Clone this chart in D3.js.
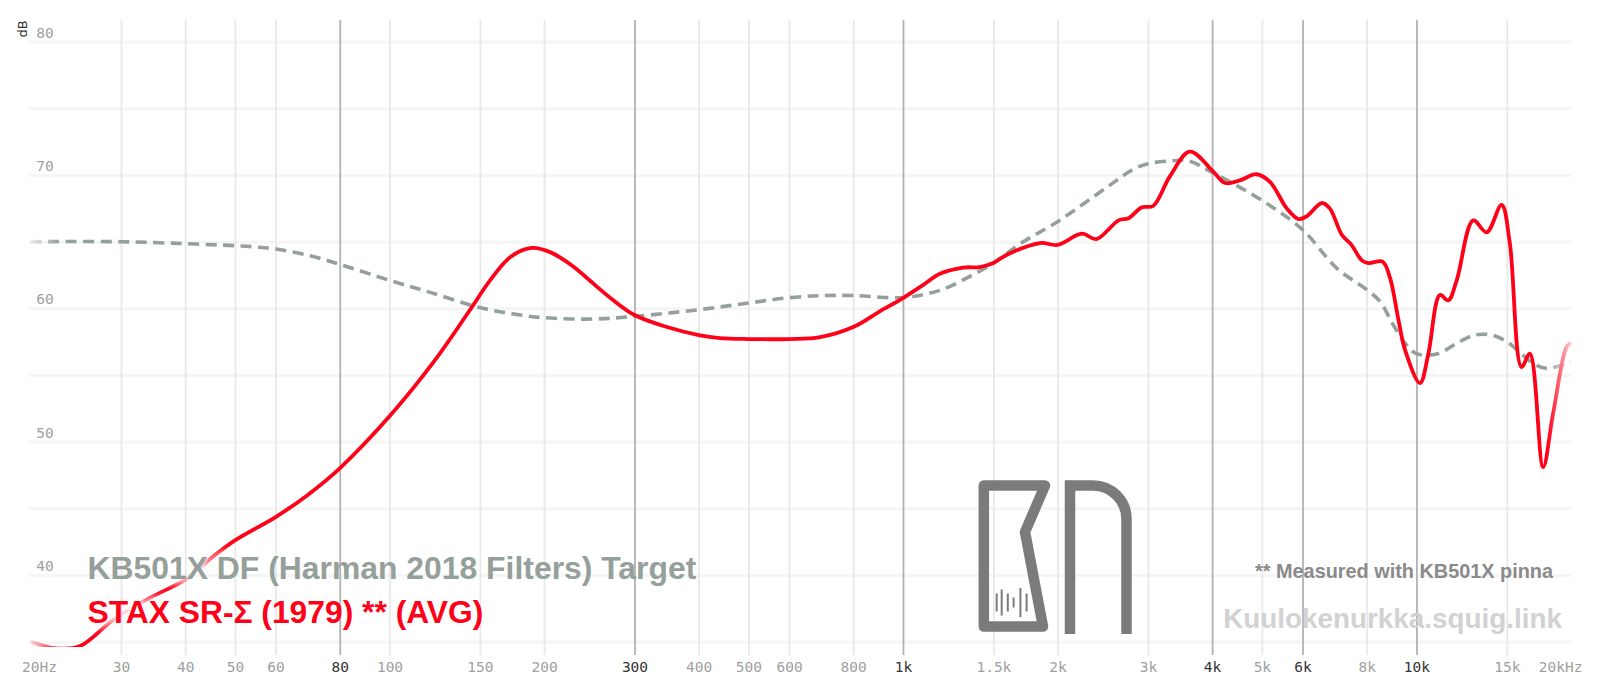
<!DOCTYPE html>
<html>
<head>
<meta charset="utf-8">
<script src="https://cdn.jsdelivr.net/npm/d3@7"></script>
<style>
  body { margin: 0; background: #fff; }
  svg { display: block; }
</style>
</head>
<body>
<svg id="chart" width="1600" height="692"></svg>
<script>
// ---- data ----
var tickFreq = [20, 30, 40, 50, 60, 80, 100, 150, 200, 300, 400, 500, 600, 800, 1000,
  1500, 2000, 3000, 4000, 5000, 6000, 8000, 10000, 15000, 20000];
var tickLabels = ["20Hz", "30", "40", "50", "60", "80", "100", "150", "200", "300", "400", "500",
  "600", "800", "1k", "1.5k", "2k", "3k", "4k", "5k", "6k", "8k", "10k", "15k", "20kHz"];
var darkTicks = [80, 300, 1000, 4000, 6000, 10000];
var dbGrid = [35, 40, 45, 50, 55, 60, 65, 70, 75, 80];
var dbLabels = [40, 50, 60, 70, 80];

// KB501X DF (Harman 2018 Filters) Target
var targetFreq = [20, 30, 40, 50, 55, 60, 70, 80, 100, 120, 150, 180, 200, 250, 300, 400, 500, 600, 700,
  800, 1000, 1100, 1200, 1350, 1500, 1700, 2000, 2500, 2800, 3000, 3300, 3600, 4000, 5000, 6000, 7000,
  8000, 8500, 9000, 9500, 10000, 11000, 12000, 13000, 14000, 15000, 16000, 17000, 18000, 20000];
var targetDb = [65.0, 65.0, 64.85, 64.7, 64.6, 64.45, 63.95, 63.3, 62.1, 61.2, 60.06, 59.5, 59.3, 59.2,
  59.4, 59.9, 60.4, 60.8, 60.96, 60.96, 60.8, 61.05, 61.45, 62.4, 63.4, 64.9, 66.5, 69.1, 70.4, 70.85,
  71.05, 71.05, 70.2, 68.1, 65.9, 63.0, 61.4, 60.5, 58.8, 57.4, 56.6, 56.6, 57.4, 58.0, 58.0, 57.5,
  56.6, 55.8, 55.5, 56.0];

// STAX SR-Σ (1979) ** (AVG)
var staxFreq = [20, 22.4, 24.9, 29, 34.2, 40, 45.4, 50, 60, 69, 80, 100, 122, 143, 157, 172, 189, 206,
  227, 242, 269, 300, 347, 400, 440, 500, 600, 690, 800, 900, 1000, 1095, 1180, 1310, 1410, 1500, 1590,
  1850, 2000, 2230, 2380, 2630, 2750, 2920, 3070, 3310, 3620, 4020, 4240, 4530, 4880, 5180, 5590,
  5890, 6110, 6540, 6780, 7160, 7460, 7830, 8060, 8590, 8880, 9220, 9500, 10160, 10550, 11110,
  11530, 11980, 12900, 13700, 14650, 15200, 16020, 16630, 17650, 18460, 19610, 20000];
var staxDb = [35.0, 34.5, 34.65, 36.65, 38.3, 39.65, 41.4, 42.6, 44.35, 45.95, 48.0, 51.9, 56.0, 59.8,
  62.1, 63.85, 64.53, 64.2, 63.2, 62.3, 60.8, 59.5, 58.6, 58.0, 57.77, 57.7, 57.7, 57.84, 58.6, 59.76,
  60.77, 61.76, 62.6, 63.06, 63.1, 63.4, 64.0, 64.9, 64.76, 65.6, 65.2, 66.6, 66.76, 67.58, 67.68, 69.9,
  71.76, 70.26, 69.4, 69.6, 70.06, 69.5, 67.5, 66.7, 66.9, 67.9, 67.5, 65.5, 64.8, 63.6, 63.4, 63.5,
  62.3, 59.2, 56.9, 54.4, 56.6, 61.0, 60.6, 62.1, 66.6, 65.7, 67.76, 64.9, 55.6, 56.6, 48.1, 52.1,
  57.1, 57.4];

var W = 1600, H = 692;
var svg = d3.select("#chart");
var defs = svg.append("defs");

var x = d3.scaleLog().domain([20, 20000]).range([30.6, 1571]);
var y = d3.scaleLinear().domain([35, 80]).range([641.7, 41.7]);

var mono = "'DejaVu Sans Mono', monospace";
var sans = "'Liberation Sans', Arial, sans-serif";

// horizontal grid + dB labels
var yAxis = svg.append("g")
  .attr("transform", "translate(29.3,0)")
  .call(d3.axisLeft(y).tickValues(dbGrid)
    .tickFormat(function(d) { return dbLabels.indexOf(d) >= 0 ? d : ""; })
    .tickSize(-(x.range()[1] - 29.3)).tickPadding(0));
yAxis.select(".domain").remove();
yAxis.selectAll(".tick line").attr("stroke", "#f5f5f5").attr("stroke-width", 3);
yAxis.selectAll(".tick text")
  .attr("x", 7).attr("dy", -4.5).attr("text-anchor", "start")
  .attr("fill", "#a0a0a0")
  .style("font-family", mono).style("font-size", "14.5px");

// vertical grid + frequency labels
var xAxis = svg.append("g")
  .attr("transform", "translate(0,655)")
  .call(d3.axisBottom(x).tickValues(tickFreq)
    .tickFormat(function(d, i) { return tickLabels[i]; })
    .tickSize(-635).tickPadding(7));
xAxis.select(".domain").remove();
xAxis.selectAll(".tick line")
  .attr("stroke", function(d) { return darkTicks.indexOf(d) >= 0 ? "#b2b2b2" : "#e8e8e8"; })
  .attr("stroke-width", 1.8)
  .attr("display", function(d) { return (d === 20 || d === 20000) ? "none" : null; });
xAxis.selectAll(".tick text")
  .attr("fill", function(d) { return darkTicks.indexOf(d) >= 0 ? "#333" : "#a0a0a0"; })
  .style("font-family", mono).style("font-size", "14.5px");
xAxis.selectAll(".tick text").filter(function(d) { return d === 20; })
  .attr("text-anchor", "start").attr("x", -9);
xAxis.selectAll(".tick text").filter(function(d) { return d === 20000; })
  .attr("text-anchor", "end").attr("x", 11);

// dB unit
svg.append("text")
  .attr("transform", "translate(26.5,29) rotate(-90)")
  .attr("text-anchor", "middle")
  .style("font-family", "'DejaVu Sans', sans-serif").style("font-size", "13px")
  .attr("fill", "#333").text("dB");

// logo
var logo = svg.append("g").attr("fill", "none").attr("stroke", "#7b7b7b")
  .attr("stroke-width", 10.5).attr("stroke-linejoin", "round");
logo.append("path").attr("d", "M983.8,485.5 H1045 L1025,532 L1043,626.5 H983.8 Z");
logo.append("path").attr("d", "M1070,634 V485.5 H1093 A33.5,33.5 0 0 1 1126.5,519 V634")
  .attr("stroke-linejoin", "miter");
var bars = [[996.7, 9], [1001.7, 13], [1007.8, 9], [1013.6, 5], [1020.4, 14.5], [1026.6, 9]];
logo.selectAll("line.bar").data(bars).enter().append("line")
  .attr("x1", function(d) { return d[0]; }).attr("x2", function(d) { return d[0]; })
  .attr("y1", function(d) { return 602.5 - d[1]; }).attr("y2", function(d) { return 602.5 + d[1]; })
  .attr("stroke-width", 2);

// texts
function fit(t, width) {
  var len = t.node().getComputedTextLength();
  var fs = parseFloat(t.style("font-size"));
  t.style("font-size", (fs * width / len) + "px");
  return t;
}

var legendSpec = [
  { text: "KB501X DF (Harman 2018 Filters) Target", y: 579, fill: "#96a09b", w: 609 },
  { text: "STAX SR-\u03A3 (1979) ** (AVG)", y: 622.7, fill: "#ff0019", w: 396 }
];

svg.append("text").attr("x", 1553).attr("y", 578).attr("text-anchor", "end")
  .style("font-family", sans).style("font-weight", "bold").style("font-size", "20px")
  .attr("fill", "#8a8a8a").text("** Measured with KB501X pinna")
  .call(fit, 298);

svg.append("text").attr("x", 1562).attr("y", 628).attr("text-anchor", "end")
  .style("font-family", sans).style("font-weight", "bold").style("font-size", "28px")
  .attr("fill", "#d2d2d2").text("Kuulokenurkka.squig.link")
  .call(fit, 339);

// curves (faded at the ends and around the legend)
var fade = defs.append("linearGradient").attr("id", "edgeFade")
  .attr("gradientUnits", "userSpaceOnUse")
  .attr("x1", x(20)).attr("x2", x(20000)).attr("y1", 0).attr("y2", 0);
[[0, 0.12], [0.018, 1], [0.985, 1], [1, 0.2]].forEach(function(s) {
  fade.append("stop").attr("offset", s[0]).attr("stop-color", "#fff").attr("stop-opacity", s[1]);
});
defs.append("filter").attr("id", "halo").attr("x", "-10%").attr("y", "-50%")
  .attr("width", "120%").attr("height", "200%")
  .append("feGaussianBlur").attr("stdDeviation", 4);

var mask = defs.append("mask").attr("id", "curveMask")
  .attr("maskUnits", "userSpaceOnUse").attr("x", 0).attr("y", 0).attr("width", W).attr("height", H);
mask.append("rect").attr("width", W).attr("height", H).attr("fill", "url(#edgeFade)");

defs.append("clipPath").attr("id", "plotClip")
  .append("rect").attr("x", 0).attr("y", 20).attr("width", W).attr("height", 627);

var line = d3.line()
  .x(function(d) { return x(d[0]); })
  .y(function(d) { return y(d[1]); })
  .curve(d3.curveCatmullRom.alpha(0.5));

var curves = svg.append("g").attr("clip-path", "url(#plotClip)")
  .append("g").attr("mask", "url(#curveMask)");

curves.append("path").datum(d3.zip(targetFreq, targetDb))
  .attr("d", line).attr("fill", "none")
  .attr("stroke", "#96a09b").attr("stroke-width", 3.6)
  .attr("stroke-dasharray", "11,6.5");

curves.append("path").datum(d3.zip(staxFreq, staxDb))
  .attr("d", line).attr("fill", "none")
  .attr("stroke", "#ff0019").attr("stroke-width", 3.8)
  .attr("stroke-linejoin", "round");

legendSpec.forEach(function(l) {
  var t = svg.append("text").attr("x", 87.5).attr("y", l.y)
    .style("font-family", sans).style("font-weight", "bold").style("font-size", "31px")
    .attr("fill", l.fill).text(l.text)
    .call(fit, l.w);
  mask.append("text").attr("x", 87.5).attr("y", l.y)
    .style("font-family", sans).style("font-weight", "bold").style("font-size", t.style("font-size"))
    .attr("fill", "#000").attr("stroke", "#000").attr("stroke-width", 7)
    .attr("stroke-linejoin", "round").attr("filter", "url(#halo)")
    .text(l.text);
});
</script>
</body>
</html>
